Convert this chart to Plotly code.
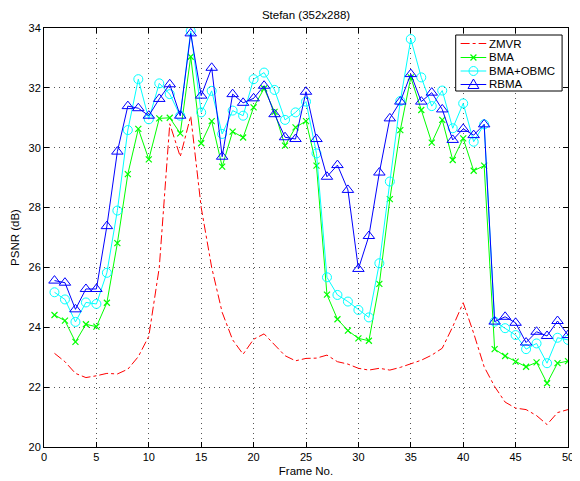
import plotly.graph_objects as go

frames = list(range(1, 51))

zmvr = [23.13, 22.85, 22.46, 22.32, 22.38, 22.46, 22.44, 22.6, 23.02, 23.7,
        26.0, 30.8, 29.7, 31.06, 28.0, 26.0, 24.5, 23.58, 23.1, 23.6,
        23.78, 23.41, 23.05, 22.88, 22.96, 22.97, 23.07, 22.85, 22.77, 22.63,
        22.57, 22.63, 22.57, 22.66, 22.77, 22.9, 23.07, 23.3, 24.02, 24.82,
        23.8, 22.68, 22.02, 21.5, 21.3, 21.25, 21.05, 20.75, 21.15, 21.25]

bma = [24.41, 24.22, 23.51, 24.1, 24.02, 24.82, 26.81, 29.12, 30.63, 29.61,
       30.98, 31.0, 30.48, 33.04, 30.15, 30.89, 29.37, 30.54, 30.34, 31.35,
       31.98, 31.2, 30.07, 30.68, 30.89, 29.4, 25.09, 24.27, 23.89, 23.63,
       23.55, 25.45, 28.28, 30.59, 32.35, 31.26, 30.17, 30.93, 29.59, 30.31,
       29.23, 29.4, 23.27, 23.04, 22.85, 22.68, 22.83, 22.13, 22.8, 22.87]

bma_obmc = [25.17, 24.93, 24.18, 24.83, 24.78, 25.82, 27.9, 30.59, 32.29, 30.95,
            32.15, 31.79, 31.07, 33.9, 31.18, 31.9, 30.46, 31.24, 31.07, 32.29,
            32.51, 31.93, 30.93, 31.18, 31.54, 29.81, 25.67, 25.08, 24.86, 24.58,
            24.33, 26.14, 28.87, 31.56, 33.63, 32.35, 31.39, 31.91, 30.65, 31.48,
            30.2, 30.78, 24.19, 23.97, 23.74, 23.27, 23.46, 22.8, 23.65, 23.58]

rbma = [25.56, 25.49, 24.6, 25.28, 25.28, 27.38, 29.87, 31.39, 31.32, 31.07,
        31.63, 32.12, 31.07, 33.82, 31.74, 32.67, 29.7, 31.79, 31.5, 31.65,
        32.07, 31.12, 30.35, 30.29, 31.87, 30.29, 29.03, 29.42, 28.59, 25.95,
        27.05, 29.17, 30.98, 31.54, 32.46, 31.54, 31.84, 31.28, 30.26, 30.63,
        30.42, 30.78, 24.19, 24.35, 24.15, 23.49, 23.85, 23.71, 24.21, 23.74]

series_names = ["ZMVR", "BMA", "BMA+OBMC", "RBMA"]
x_ticks = [0, 5, 10, 15, 20, 25, 30, 35, 40, 45, 50]
y_ticks = [20, 22, 24, 26, 28, 30, 32, 34]

FONT = "Liberation Sans, Arial, Helvetica, sans-serif"
RED, GREEN, CYAN, BLUE = "#ff0000", "#00ff00", "#00ffff", "#0000ff"

fig = go.Figure()
fig.add_trace(go.Scatter(x=frames, y=zmvr, name=series_names[0], mode="lines",
                         line=dict(color=RED, width=1, dash="dashdot")))
fig.add_trace(go.Scatter(x=frames, y=bma, name=series_names[1], mode="lines+markers",
                         line=dict(color=GREEN, width=1),
                         marker=dict(symbol="x-thin", size=6,
                                     line=dict(color=GREEN, width=1.2))))
fig.add_trace(go.Scatter(x=frames, y=bma_obmc, name=series_names[2], mode="lines+markers",
                         line=dict(color=CYAN, width=1),
                         marker=dict(symbol="circle-open", size=9,
                                     line=dict(color=CYAN, width=1))))
fig.add_trace(go.Scatter(x=frames, y=rbma, name=series_names[3], mode="lines+markers",
                         line=dict(color=BLUE, width=1),
                         marker=dict(symbol="triangle-up-open", size=10,
                                     line=dict(color=BLUE, width=1))))

# ---- custom legend box (pixel layout converted to paper coordinates) ----
PL, PR, PT, PB = 42.0, 574.0, 28.0, 447.0


def px(xp):
    return (xp - PL) / (PR - PL)


def py(yp):
    return (PB - yp) / (PB - PT)


shapes = [dict(type="rect", xref="paper", yref="paper",
               x0=px(460), x1=px(568), y0=py(91), y1=py(35),
               line=dict(color="black", width=1), fillcolor="white", layer="above")]
annotations = []
rows = [43.5, 57.5, 71.0, 84.5]
colors = [RED, GREEN, CYAN, BLUE]
mx = 478.0
for name, col, ry in zip(series_names, colors, rows):
    shapes.append(dict(type="line", xref="paper", yref="paper",
                       x0=px(465), x1=px(491), y0=py(ry), y1=py(ry),
                       line=dict(color=col, width=1,
                                 dash="dashdot" if name == "ZMVR" else "solid"),
                       layer="above"))
    annotations.append(dict(text=name, xref="paper", yref="paper",
                            x=px(492), y=py(ry), xanchor="left", yanchor="middle",
                            showarrow=False, font=dict(family=FONT, size=11.5, color="black")))
# markers in legend
r = rows[1]
shapes.append(dict(type="path", xref="paper", yref="paper", layer="above",
                   path=f"M {px(mx-3)},{py(r-3)} L {px(mx+3)},{py(r+3)} "
                        f"M {px(mx-3)},{py(r+3)} L {px(mx+3)},{py(r-3)}",
                   line=dict(color=GREEN, width=1.2)))
r = rows[2]
shapes.append(dict(type="circle", xref="paper", yref="paper", layer="above",
                   x0=px(mx-4.5), x1=px(mx+4.5), y0=py(r+4.5), y1=py(r-4.5),
                   line=dict(color=CYAN, width=1), fillcolor="rgba(0,0,0,0)"))
r = rows[3]
shapes.append(dict(type="path", xref="paper", yref="paper", layer="above",
                   path=f"M {px(mx)},{py(r-5.5)} L {px(mx+5.5)},{py(r+4)} "
                        f"L {px(mx-5.5)},{py(r+4)} Z",
                   line=dict(color=BLUE, width=1), fillcolor="rgba(0,0,0,0)"))

axis_common = dict(showline=True, linecolor="black", linewidth=1, mirror="ticks",
                   ticks="inside", ticklen=5, tickcolor="black",
                   showgrid=True, gridcolor="#555555", griddash="1px,4px", gridwidth=1,
                   zeroline=False, ticklabeloverflow="allow",
                   tickfont=dict(family=FONT, size=11, color="black"))

# the page body adds an 8px offset, so the figure is 572x473 with shifted margins
fig.update_layout(
    width=572, height=473,
    margin=dict(l=34, r=6, t=20, b=34),
    paper_bgcolor="white", plot_bgcolor="white",
    font=dict(family=FONT, size=11, color="black"),
    title=dict(text="Stefan (352x288)", xref="paper", x=0.5, xanchor="center",
               y=0.985, yanchor="middle",
               font=dict(family=FONT, size=11.5, color="black")),
    xaxis=dict(range=[0, 50], tickvals=x_ticks,
               title=dict(text="Frame No.", standoff=4, font=dict(family=FONT, size=11.5)),
               **axis_common),
    yaxis=dict(range=[20, 34], tickvals=y_ticks,
               title=dict(text="PSNR (dB)", standoff=6, font=dict(family=FONT, size=11.5)),
               **axis_common),
    showlegend=False,
    shapes=shapes,
    annotations=annotations,
)

fig.write_html("out.html")
